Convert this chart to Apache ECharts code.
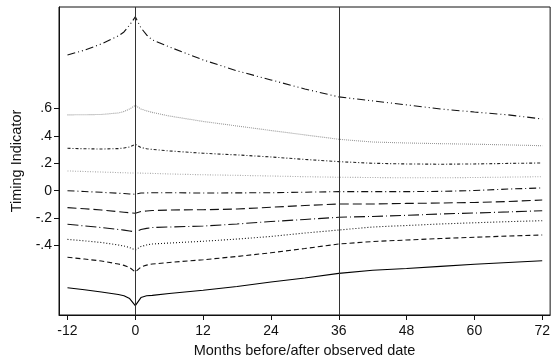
<!DOCTYPE html>
<html>
<head>
<meta charset="utf-8">
<script src="https://cdn.jsdelivr.net/npm/echarts@6/dist/echarts.min.js"></script>
<style>
  html, body { margin: 0; padding: 0; background: #fff; }
  #chart { width: 553px; height: 363px; }
</style>
</head>
<body>
<div id="chart"></div>
<script>
// months relative to the observed date
const months = [-12, -9, -6, -3, -2, -1, 0, 1, 2, 3, 6, 12, 18, 24, 30, 36, 42, 48, 54, 60, 66, 72];
const xTicks = [-12, 0, 12, 24, 36, 48, 60, 72];
const yTicks = [-0.4, -0.2, 0, 0.2, 0.4, 0.6];
const refLines = [0, 36];

// ten curves, top to bottom
const s1 = [0.990, 1.025, 1.071, 1.129, 1.158, 1.209, 1.268, 1.188, 1.136, 1.100, 1.049, 0.954, 0.874, 0.808, 0.742, 0.684, 0.655, 0.626, 0.596, 0.574, 0.553, 0.523];
const s2 = [0.553, 0.554, 0.556, 0.567, 0.578, 0.596, 0.622, 0.596, 0.582, 0.571, 0.545, 0.505, 0.472, 0.439, 0.407, 0.375, 0.355, 0.348, 0.343, 0.339, 0.334, 0.328];
const s3 = [0.309, 0.306, 0.304, 0.307, 0.311, 0.319, 0.339, 0.315, 0.306, 0.301, 0.290, 0.273, 0.261, 0.246, 0.228, 0.212, 0.200, 0.195, 0.193, 0.195, 0.199, 0.202];
const s4 = [0.144, 0.140, 0.136, 0.132, 0.131, 0.129, 0.129, 0.128, 0.127, 0.126, 0.122, 0.116, 0.112, 0.107, 0.102, 0.098, 0.096, 0.094, 0.094, 0.096, 0.099, 0.102];
const s5 = [0.000, -0.006, -0.012, -0.019, -0.021, -0.024, -0.026, -0.017, -0.016, -0.015, -0.015, -0.017, -0.016, -0.015, -0.011, -0.007, -0.007, -0.007, -0.005, 0.001, 0.012, 0.020];
const s6 = [-0.124, -0.132, -0.141, -0.153, -0.157, -0.161, -0.165, -0.152, -0.148, -0.145, -0.141, -0.139, -0.134, -0.121, -0.108, -0.097, -0.097, -0.093, -0.090, -0.086, -0.079, -0.068];
const s7 = [-0.245, -0.257, -0.269, -0.283, -0.288, -0.294, -0.301, -0.283, -0.275, -0.269, -0.265, -0.258, -0.243, -0.225, -0.210, -0.194, -0.188, -0.180, -0.170, -0.163, -0.155, -0.146];
const s8 = [-0.355, -0.366, -0.378, -0.396, -0.404, -0.415, -0.433, -0.407, -0.396, -0.389, -0.382, -0.369, -0.353, -0.334, -0.309, -0.287, -0.265, -0.254, -0.243, -0.234, -0.226, -0.219];
const s9 = [-0.486, -0.499, -0.513, -0.535, -0.545, -0.561, -0.593, -0.557, -0.543, -0.535, -0.524, -0.504, -0.480, -0.453, -0.422, -0.389, -0.371, -0.360, -0.349, -0.340, -0.331, -0.323];
const s10 = [-0.708, -0.723, -0.739, -0.758, -0.767, -0.787, -0.839, -0.780, -0.767, -0.764, -0.750, -0.727, -0.699, -0.666, -0.637, -0.603, -0.581, -0.568, -0.552, -0.537, -0.524, -0.511];

const curves = [
  { data: s1, color: '#111', dash: [8, 3, 1, 3, 1, 3] },
  { data: s2, color: '#999', dash: [1, 1] },
  { data: s3, color: '#222', dash: [3, 2, 1, 2] },
  { data: s4, color: '#aaa', dash: [1, 1.5] },
  { data: s5, color: '#111', dash: [7, 3, 1, 3] },
  { data: s6, color: '#111', dash: [9, 4] },
  { data: s7, color: '#111', dash: [11, 3, 1, 3] },
  { data: s8, color: '#111', dash: [1, 2] },
  { data: s9, color: '#111', dash: [5, 3] },
  { data: s10, color: '#000', dash: 'solid' }
];

const chart = echarts.init(document.getElementById('chart'), null, { renderer: 'canvas' });
const font = 'Liberation Sans, Arial, sans-serif';

const fmtY = v => {
  const r = Math.round(v * 10) / 10;
  if (r === 0) return '0';
  return (r < 0 ? '-' : '') + String(Math.abs(r)).replace(/^0/, '');
};

const series = curves.map((c, i) => ({
  type: 'line',
  data: months.map((m, j) => [m, c.data[j]]),
  showSymbol: false,
  symbol: 'none',
  smooth: false,
  lineStyle: { color: c.color, width: 1.1, type: c.dash },
  markLine: i === 0 ? {
    silent: true,
    symbol: 'none',
    label: { show: false },
    lineStyle: { color: '#333', width: 1, type: 'solid' },
    data: refLines.map(x => ({ xAxis: x }))
  } : undefined
}));

chart.setOption({
  animation: false,
  backgroundColor: '#fff',
  grid: {
    left: 59, right: 1, top: 7, bottom: 48,
    show: true, borderColor: '#111', borderWidth: 1
  },
  xAxis: {
    type: 'value',
    min: -13.5,
    max: 73.4,
    name: 'Months before/after observed date',
    nameLocation: 'middle',
    nameGap: 28,
    nameTextStyle: { color: '#111', fontSize: 14.5, fontFamily: font },
    axisLine: { show: true, onZero: false, lineStyle: { color: '#111', width: 1 } },
    axisTick: { show: true, length: 5, customValues: xTicks, lineStyle: { color: '#111' } },
    axisLabel: { customValues: xTicks, color: '#111', fontSize: 14, fontFamily: font, margin: 9 },
    splitLine: { show: false }
  },
  yAxis: {
    type: 'value',
    min: -0.907,
    max: 1.34,
    name: 'Timing Indicator',
    nameLocation: 'middle',
    nameGap: 34,
    nameRotate: 90,
    nameTextStyle: { color: '#111', fontSize: 14.5, fontFamily: font },
    axisLine: { show: true, onZero: false, lineStyle: { color: '#111', width: 1 } },
    axisTick: { show: true, length: 5, customValues: yTicks, lineStyle: { color: '#111' } },
    axisLabel: { customValues: yTicks, formatter: fmtY, color: '#111', fontSize: 14, fontFamily: font, margin: 7 },
    splitLine: { show: false }
  },
  series: series
});
</script>
</body>
</html>
